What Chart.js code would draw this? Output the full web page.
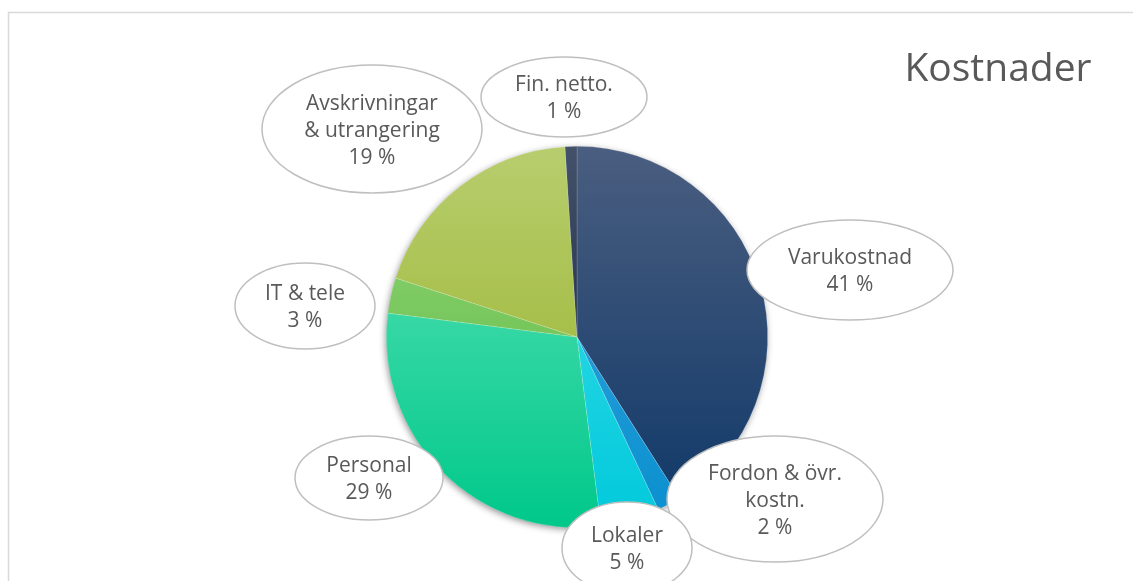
<!DOCTYPE html>
<html>
<head>
<meta charset="utf-8">
<script src="https://cdn.jsdelivr.net/npm/chart.js@4"></script>
<style>
  html, body { margin: 0; padding: 0; background: #fff; }
  #wrap { width: 1133px; height: 581px; position: relative; overflow: hidden; }
</style>
</head>
<body>
<div id="wrap"><canvas id="kostChart" width="1133" height="581"></canvas></div>
<script>
// ---- data ----
const categories = ['Varukostnad', 'Fordon & övr. kostn.', 'Lokaler', 'Personal', 'IT & tele', 'Avskrivningar & utrangering', 'Fin. netto.'];
const shares = [41, 2, 5, 29, 3, 19, 1];
const calloutText = [
  ['Varukostnad'],
  ['Fordon & övr.', 'kostn.'],
  ['Lokaler'],
  ['Personal'],
  ['IT & tele'],
  ['Avskrivningar', '& utrangering'],
  ['Fin. netto.']
];
const chartTitle = 'Kostnader';

// ---- styles ----
const topColors    = ['#4a5e80', '#3aa8e0', '#44e0ea', '#62e4ba', '#94d67c', '#b8cd6e', '#44516a'];
const bottomColors = ['#0e3767', '#0a8fcf', '#00c9db', '#00c88a', '#58b63a', '#94b024', '#0a1b34'];
// callout ellipse: offset from pie centre, radii
const calloutLayout = [
  { dx: 273, dy: -67, rx: 103, ry: 50 },
  { dx: 198, dy: 162, rx: 108, ry: 63 },
  { dx: 50, dy: 211, rx: 65, ry: 46 },
  { dx: -208, dy: 141, rx: 74, ry: 42 },
  { dx: -272, dy: -31, rx: 70, ry: 43 },
  { dx: -205, dy: -208, rx: 110, ry: 64 },
  { dx: -13, dy: -240, rx: 83, ry: 40 }
];
const FONT = '"Open Sans", "Liberation Sans", sans-serif';
const TEXT_COLOR = '#595959';

function sliceGradient(ctx, i) {
  const chart = ctx.chart;
  const area = chart.chartArea;
  if (!area) return bottomColors[i];
  const g = chart.ctx.createLinearGradient(0, area.top, 0, area.bottom);
  g.addColorStop(0, topColors[i]);
  g.addColorStop(1, bottomColors[i]);
  return g;
}

const frameAndShadowPlugin = {
  id: 'frameAndShadow',
  beforeDraw(chart) {
    const { ctx, width, height } = chart;
    ctx.save();
    ctx.strokeStyle = '#d9d9d9';
    ctx.lineWidth = 1.5;
    ctx.beginPath();
    ctx.moveTo(8.5, height + 2);
    ctx.lineTo(8.5, 12.5);
    ctx.lineTo(width + 2, 12.5);
    ctx.stroke();
    ctx.restore();
  },
  beforeDatasetsDraw(chart) {
    const arc = chart.getDatasetMeta(0).data[0];
    if (!arc) return;
    const { ctx } = chart;
    ctx.save();
    ctx.shadowColor = 'rgba(0,0,0,0.45)';
    ctx.shadowBlur = 7;
    ctx.shadowOffsetX = -1;
    ctx.shadowOffsetY = 2;
    ctx.fillStyle = '#fff';
    ctx.beginPath();
    ctx.arc(arc.x, arc.y, arc.outerRadius - 0.5, 0, Math.PI * 2);
    ctx.fill();
    ctx.restore();
  }
};

const calloutPlugin = {
  id: 'callouts',
  afterDatasetsDraw(chart) {
    const meta = chart.getDatasetMeta(0);
    const { ctx } = chart;
    const cx = meta.data[0].x, cy = meta.data[0].y;
    ctx.save();
    meta.data.forEach((el, i) => {
      const lay = calloutLayout[i];
      const x = cx + lay.dx, y = cy + lay.dy;
      ctx.beginPath();
      ctx.ellipse(x, y, lay.rx, lay.ry, 0, 0, Math.PI * 2);
      ctx.fillStyle = '#fff';
      ctx.fill();
      ctx.strokeStyle = '#bfbfbf';
      ctx.lineWidth = 1.5;
      ctx.stroke();

      const lines = calloutText[i].concat([shares[i] + ' %']);
      const lh = 27;
      ctx.fillStyle = TEXT_COLOR;
      ctx.font = '21px ' + FONT;
      ctx.textAlign = 'center';
      ctx.textBaseline = 'middle';
      const y0 = y + 2 - (lines.length - 1) * lh / 2;
      lines.forEach((t, k) => ctx.fillText(t, x, y0 + k * lh));
    });

    ctx.font = '39px ' + FONT;
    ctx.fillStyle = TEXT_COLOR;
    ctx.textAlign = 'center';
    ctx.textBaseline = 'middle';
    ctx.fillText(chartTitle, 998, 70);
    ctx.restore();
  }
};

new Chart(document.getElementById('kostChart'), {
  type: 'pie',
  data: {
    labels: categories,
    datasets: [{
      data: shares,
      backgroundColor: (ctx) => sliceGradient(ctx, ctx.dataIndex),
      borderWidth: 0.6,
      borderColor: 'rgba(255,255,255,0.25)',
      hoverOffset: 0
    }]
  },
  options: {
    responsive: false,
    animation: false,
    layout: { padding: { top: 146, bottom: 53, left: 21, right: 0 } },
    plugins: {
      legend: { display: false },
      tooltip: { enabled: false }
    }
  },
  plugins: [frameAndShadowPlugin, calloutPlugin]
});
</script>
</body>
</html>
